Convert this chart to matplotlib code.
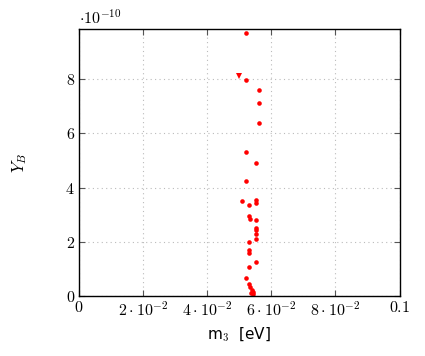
import numpy as np
import matplotlib
matplotlib.use('Agg')
import matplotlib.pyplot as plt
from matplotlib.ticker import FixedLocator, FuncFormatter

plt.rcParams['mathtext.fontset'] = 'cm'
plt.rcParams['font.family'] = 'DejaVu Sans'

# m3 [eV] y Y_B (en unidades de 1e-10)
m3 = [0.0521, 0.0521, 0.0561, 0.0561, 0.0561, 0.0521, 0.0551, 0.0521,
      0.0510, 0.0551, 0.0551, 0.0531, 0.0531, 0.0534, 0.0551, 0.0551,
      0.0551, 0.0551, 0.0551, 0.0531, 0.0531, 0.0531, 0.0551, 0.0529,
      0.0521, 0.0529, 0.0532, 0.0540, 0.0542, 0.0542, 0.0536]
yb = [9.70, 7.97, 7.59, 7.11, 6.39, 5.33, 4.91, 4.25,
      3.50, 3.53, 3.43, 3.37, 2.94, 2.85, 2.79, 2.52,
      2.44, 2.27, 2.11, 1.99, 1.70, 1.58, 1.25, 1.06,
      0.67, 0.42, 0.34, 0.22, 0.13, 0.05, 0.09]
# punto con triangulo
m3_tri = [0.0500]
yb_tri = [8.12]

escala = 1e-10
xticks = [0, 0.02, 0.04, 0.06, 0.08, 0.1]
xlabels = [r'$0$', r'$2\cdot10^{-2}$', r'$4\cdot10^{-2}$', r'$6\cdot10^{-2}$',
           r'$8\cdot10^{-2}$', r'$0.1$']
yticks = [0, 2, 4, 6, 8]

fig = plt.figure(figsize=(4.25, 3.56), dpi=100)
ax = fig.add_axes([0.186, 0.169, 0.754, 0.749])

ax.plot(m3, np.array(yb) * escala, 'o', color='red', markersize=3.3,
        markeredgewidth=0)
ax.plot(m3_tri, np.array(yb_tri) * escala, 'v', color='red', markersize=4,
        markeredgewidth=0)

ax.set_xlim(0, 0.1)
ax.set_ylim(0, 9.85e-10)
ax.xaxis.set_major_locator(FixedLocator(xticks))
ax.set_xticklabels(xlabels, fontsize=11.5)
ax.yaxis.set_major_locator(FixedLocator([v * escala for v in yticks]))
ax.yaxis.set_major_formatter(FuncFormatter(lambda v, p: r'$%d$' % round(v / escala)))
ax.tick_params(axis='y', labelsize=11.5)

ax.tick_params(direction='in', top=True, right=True, length=4, width=0.8,
               color='#555555', pad=3)
ax.grid(True, linestyle=(0, (1, 3)), color='#bbbbbb', linewidth=0.8)
for s in ax.spines.values():
    s.set_linewidth(1.0)

ax.text(0.0, 1.01, r'$\cdot10^{-10}$', transform=ax.transAxes, fontsize=11.5,
        ha='left', va='bottom')

ax.set_xlabel('m$_\\mathsf{3}$  [eV]', fontsize=11, labelpad=5)
ax.set_ylabel(r'$Y_B$', fontsize=12)
ax.yaxis.set_label_coords(-0.155, 0.5)

fig.savefig('out.png', dpi=100)
